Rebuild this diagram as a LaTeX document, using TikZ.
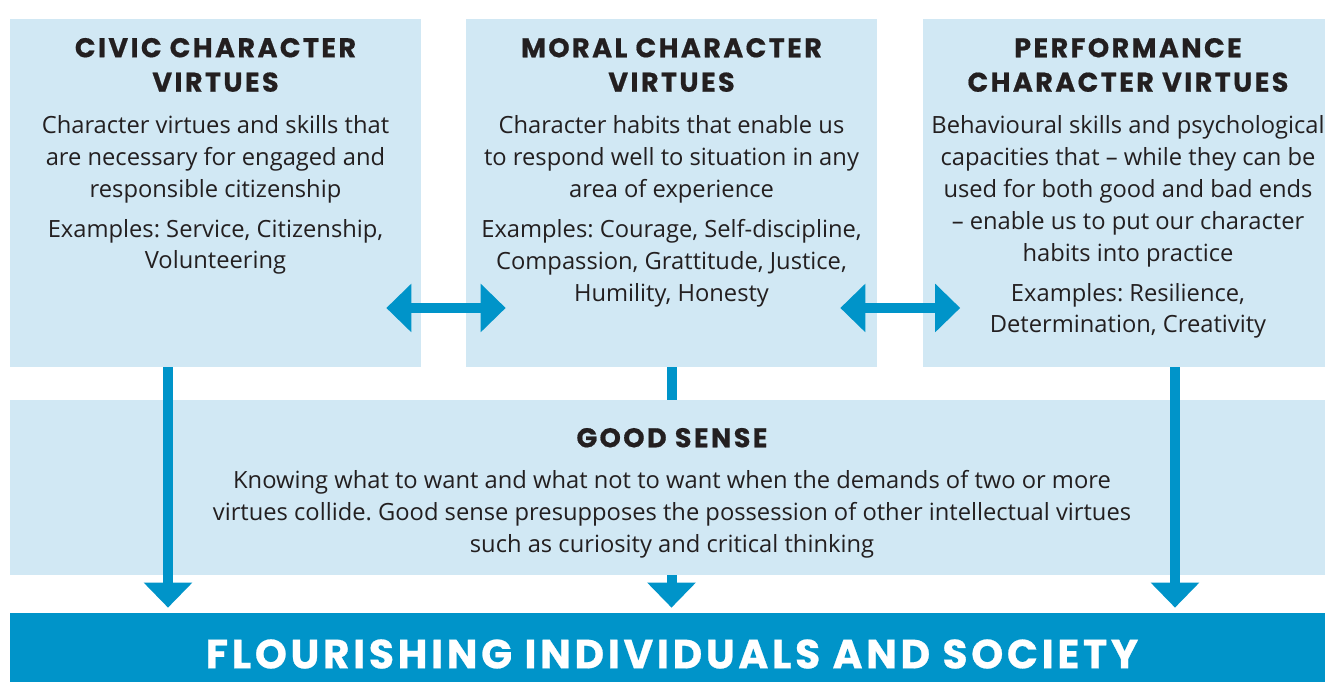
\documentclass[tikz,border=0pt]{standalone}
\usepackage{fontspec}
\setmainfont{Open Sans}
\newfontfamily\headfont{Poppins}[LetterSpace=9,BoldFeatures={FakeBold=0.6}]
\usetikzlibrary{positioning,arrows.meta}
\definecolor{paleblue}{HTML}{D1E8F4}
\definecolor{deepblue}{HTML}{0094C9}
\definecolor{inkgray}{HTML}{231F20}
\frenchspacing

\begin{document}
\begin{tikzpicture}[x=0.02cm,y=-0.02cm,
	panel/.style={fill=paleblue,inner sep=0pt,minimum width=8.22cm,minimum height=6.96cm},
	headtxt/.style={font=\headfont\bfseries\fontsize{15.4}{19.6}\selectfont,text=inkgray,align=center,inner sep=0pt},
	bodytxt/.style={font=\fontsize{13.5}{18.2}\selectfont,text=inkgray,align=center,inner sep=0pt},
	flow/.style={draw=deepblue,line width=0.2cm,shorten >=0.1cm,-{Triangle[length=0.5cm,width=0.94cm]}},
	twoway/.style={draw=deepblue,line width=0.2cm,{Triangle[length=0.5cm,width=0.94cm]}-{Triangle[length=0.5cm,width=0.94cm]}}]
	\useasboundingbox (0,0) rectangle (1325,682);

	\node[panel] (civic) at (215.5,193) {};
	\node[panel] (moral) at (671.5,193) {};
	\node[panel] (perf) at (1128,193) {};

	\node[headtxt,anchor=north] (civichead) at ([yshift=-0.38cm]civic.north) {CIVIC CHARACTER\\VIRTUES};
	\node[bodytxt,below=0.45cm of civichead] (civicbody) {Character virtues and skills that\\are necessary for engaged and\\responsible citizenship\\[0.16cm]Examples: Service, Citizenship,\\Volunteering};

	\node[headtxt,anchor=north] (moralhead) at ([yshift=-0.38cm]moral.north) {MORAL CHARACTER\\VIRTUES};
	\node[bodytxt,below=0.45cm of moralhead] (moralbody) {Character habits that enable us\\to respond well to situation in any\\area of experience\\[0.16cm]Examples: Courage, Self-discipline,\\Compassion, Grattitude, Justice,\\Humility, Honesty};

	\node[headtxt,anchor=north] (perfhead) at ([yshift=-0.38cm]perf.north) {PERFORMANCE\\CHARACTER VIRTUES};
	\node[bodytxt,below=0.45cm of perfhead] (perfbody) {Behavioural skills and psychological\\capacities that – while they can be\\used for both good and bad ends\\– enable us to put our character\\habits into practice\\[0.16cm]Examples: Resilience,\\Determination, Creativity};

	\draw[twoway] ([xshift=-0.7cm,yshift=-2.3cm]civic.east) -- ([xshift=0.8cm,yshift=-2.3cm]moral.west);
	\draw[twoway] ([xshift=-0.74cm,yshift=-2.3cm]moral.east) -- ([xshift=0.76cm,yshift=-2.3cm]perf.west);

	\node[fill=deepblue,inner sep=0pt,minimum width=26.48cm,minimum height=1.64cm,
		text=white,font=\headfont\bfseries\fontsize{23.2}{27}\selectfont] (flourish) at (672,654) {FLOURISHING INDIVIDUALS AND SOCIETY};

	% middle arrow sits behind the good sense box
	\draw[flow] (moral.south) -- (moral.south |- flourish.north);

	\node[fill=paleblue,inner sep=0pt,minimum width=26.48cm,minimum height=3.5cm] (sense) at (672,487.5) {};
	\node[headtxt,anchor=north] (sensehead) at ([yshift=-0.56cm]sense.north) {GOOD SENSE};
	\node[bodytxt,below=0.44cm of sensehead] (sensebody) {Knowing what to want and what not to want when the demands of two or more\\virtues collide. Good sense presupposes the possession of other intellectual virtues\\such as curiosity and critical thinking};

	\draw[flow] ([xshift=-0.95cm]civic.south) -- ([xshift=-0.95cm]civic.south |- flourish.north);
	\draw[flow] ([xshift=0.94cm]perf.south) -- ([xshift=0.94cm]perf.south |- flourish.north);
\end{tikzpicture}
\end{document}
